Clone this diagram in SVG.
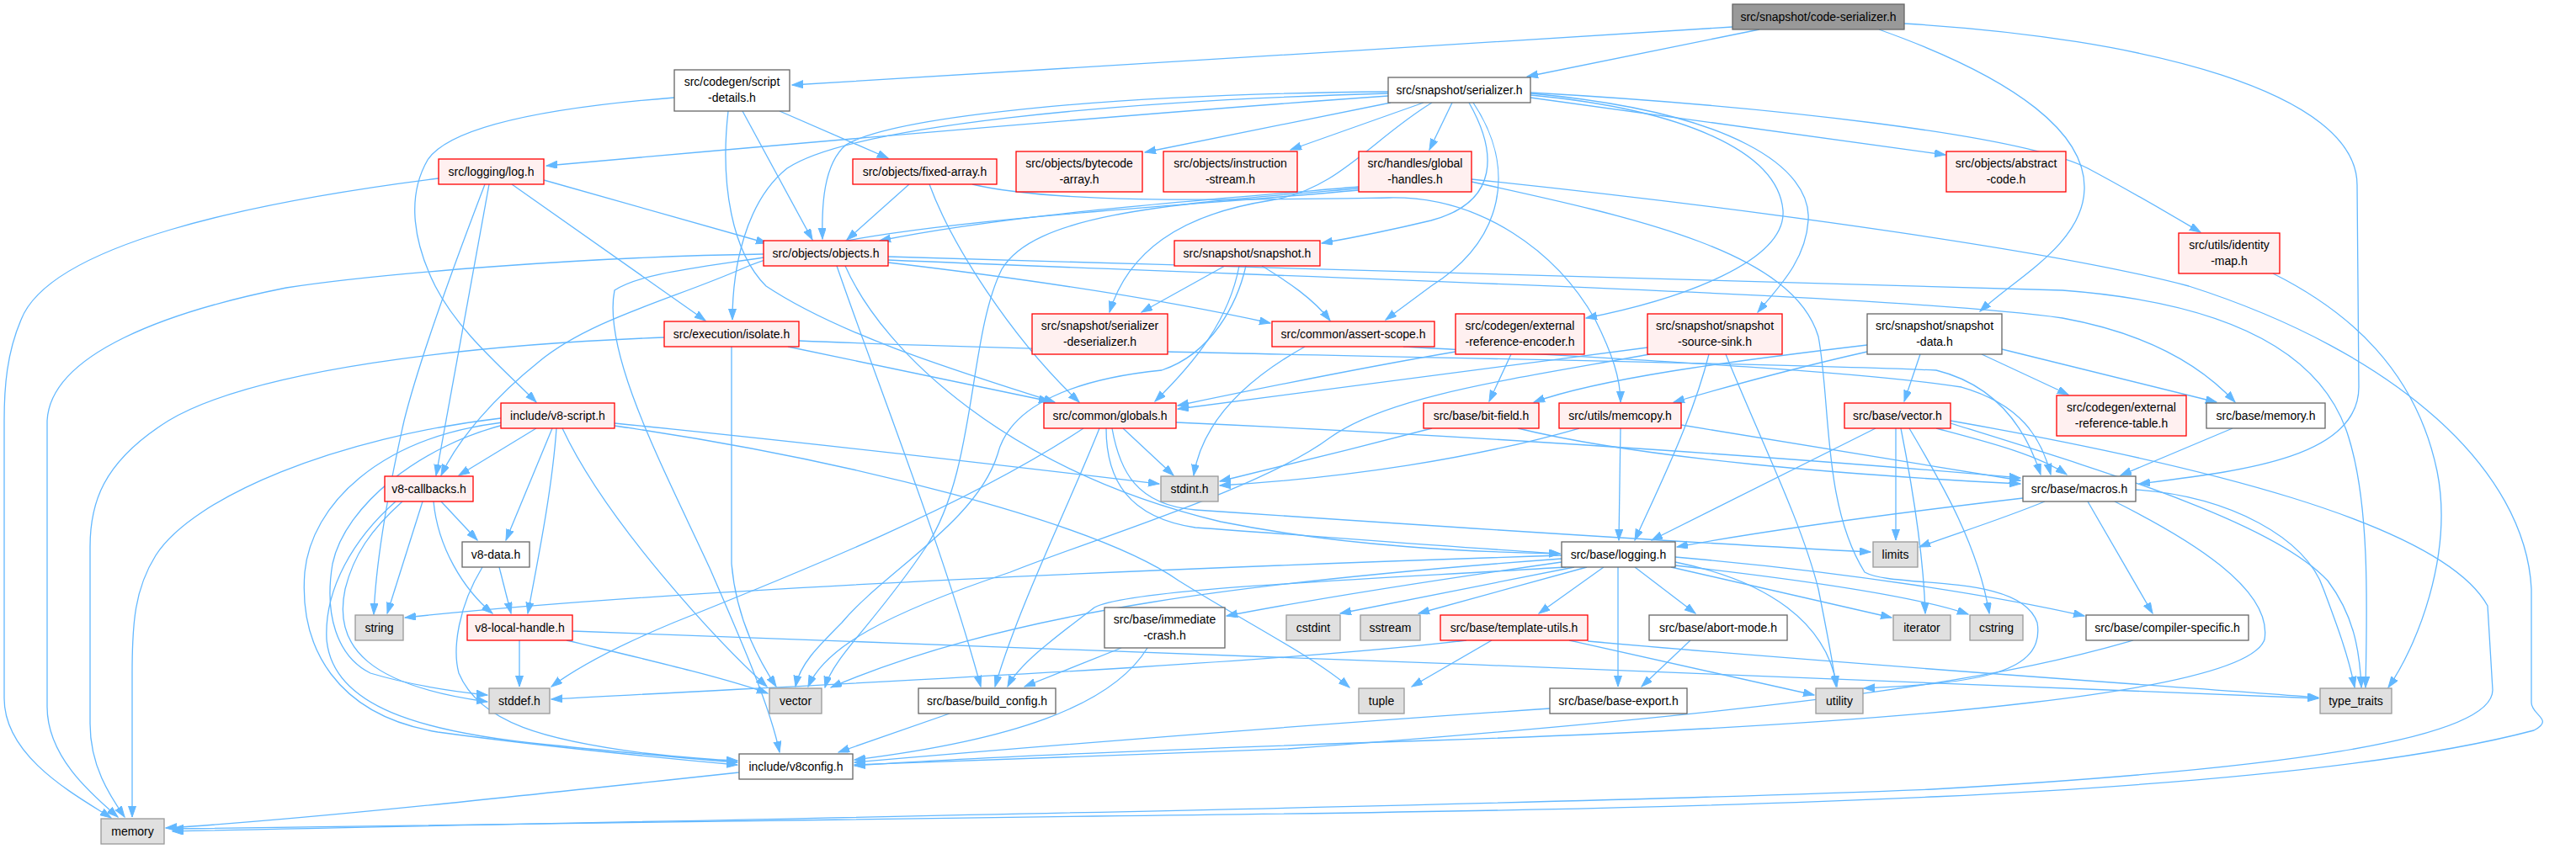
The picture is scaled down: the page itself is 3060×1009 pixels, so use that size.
<svg xmlns="http://www.w3.org/2000/svg" width="3060" height="1009" viewBox="0 0 3060 1009">
<style>
.n rect{stroke-width:1.3}
.w rect{fill:#fff;stroke:#666}
.r rect{fill:#FFF0F0;stroke:#f00}
.g rect{fill:#E0E0E0;stroke:#999}
.root rect{fill:#999;stroke:#666}
text{font-family:"Liberation Sans",Arial,sans-serif;font-size:14px;text-anchor:middle;fill:#000}
.e path{fill:none;stroke:#63B8FF;stroke-width:1.3;marker-end:url(#a)}
</style>
<defs>
<marker id="a" markerUnits="userSpaceOnUse" markerWidth="14" markerHeight="10" refX="13" refY="4.5" orient="auto">
<path d="M0,0 L13,4.5 L0,9 z" fill="#63B8FF" stroke="#63B8FF" stroke-width="1"/>
</marker>
</defs>
<rect width="3060" height="1009" fill="#fff"/>
<g id="edges" class="e">
<path d="M2058,32 C1700,55 1250,82 941,101"/>
<path d="M2090,35 L1814,91"/>
<path d="M2232,35 C2400,95 2478,160 2476,225 C2474,290 2395,330 2352,370"/>
<path d="M2262,28 C2550,45 2800,110 2800,220 L2802,460 C2802,545 2660,560 2541,575"/>
<path d="M1649,114 C1350,135 950,170 649,197"/>
<path d="M1649,109 C1300,112 1060,140 1005,172 C978,195 976,245 977,284"/>
<path d="M1649,111 C1320,120 1010,150 935,200 C885,240 870,320 870,380"/>
<path d="M1652,122 L1360,181"/>
<path d="M1691,122 L1533,178"/>
<path d="M1725,122 L1698,178"/>
<path d="M1701,122 C1630,165 1590,225 1510,238 C1400,255 1340,300 1318,371"/>
<path d="M1745,122 C1778,180 1782,240 1700,262 C1650,274 1610,282 1570,289"/>
<path d="M1750,122 C1802,200 1787,285 1700,340 L1646,380"/>
<path d="M1818,113 C2000,130 2112,180 2118,250 C2122,310 2000,355 1884,378"/>
<path d="M1818,111 C2060,133 2152,200 2148,262 C2145,310 2112,342 2088,371"/>
<path d="M1818,116 L2311,184"/>
<path d="M1818,110 C2100,126 2400,160 2480,200 C2540,232 2590,262 2614,276"/>
<path d="M801,116 C650,128 535,150 508,190 C482,235 492,290 517,340 C545,395 600,440 637,478"/>
<path d="M882,132 L965,285"/>
<path d="M926,132 L1055,188"/>
<path d="M865,132 C855,220 870,300 910,340 C1000,400 1150,445 1253,478"/>
<path d="M646,214 L911,289"/>
<path d="M608,219 L838,381"/>
<path d="M521,212 C300,240 60,290 25,380 C8,420 5,460 5,500 L5,830 C5,900 90,945 132,972"/>
<path d="M576,219 C545,300 500,420 480,500 C462,580 447,660 444,730"/>
<path d="M581,219 L518,565"/>
<path d="M1080,219 L1006,285"/>
<path d="M1104,219 C1130,290 1200,400 1282,478"/>
<path d="M1155,219 C1250,242 1450,238 1650,235 C1760,233 1850,300 1895,380 C1915,420 1925,450 1925,478"/>
<path d="M1614,222 C1400,240 1200,255 1045,286"/>
<path d="M1614,226 C1350,250 1000,265 880,320 C800,355 700,380 640,430 C590,470 545,520 524,565"/>
<path d="M1614,224 C1400,242 1230,252 1190,320 C1150,400 1160,560 1100,650 C1040,740 990,780 980,817"/>
<path d="M1748,213 C2100,250 2450,300 2600,340 C2850,420 3000,560 3007,700 L3007,835 C3007,850 3035,855 3010,868 C2700,950 2000,962 1300,970 C900,976 400,981 205,985"/>
<path d="M1748,216 C1950,260 2130,300 2160,400 C2175,480 2165,600 2215,680 C2250,700 2400,680 2420,740 C2430,800 2350,812 2214,818"/>
<path d="M2700,325 C2790,370 2870,440 2895,560 C2915,660 2870,770 2837,817"/>
<path d="M1055,305 C1600,322 2250,335 2450,345 C2650,360 2760,420 2790,520 C2815,600 2812,720 2810,817"/>
<path d="M1055,309 C1600,332 2250,350 2450,378 C2560,398 2620,440 2655,478"/>
<path d="M907,302 C700,305 450,325 340,342 C200,370 60,420 56,500 L56,840 C56,900 110,945 140,971"/>
<path d="M1055,312 C1250,335 1400,360 1509,384"/>
<path d="M994,316 C1040,450 1120,650 1165,816"/>
<path d="M1004,316 C1050,420 1200,560 1450,620 C1600,650 1750,656 1853,658"/>
<path d="M907,306 C830,318 760,325 730,345 C715,420 790,560 843,675 C880,760 915,840 926,894"/>
<path d="M936,412 L1247,477"/>
<path d="M789,401 C550,410 300,440 200,500 C120,550 107,600 107,650 L107,860 C107,910 130,945 148,971"/>
<path d="M869,412 L869,670 C875,740 905,790 922,816"/>
<path d="M949,405 C1300,420 2000,428 2300,440 C2380,460 2410,520 2424,564"/>
<path d="M1455,316 L1356,371"/>
<path d="M1472,316 C1460,380 1420,430 1372,477"/>
<path d="M1480,316 C1470,360 1440,420 1380,440 C1280,450 1200,480 1185,540 C1160,620 1050,680 1000,740 C970,770 950,790 945,816"/>
<path d="M1499,316 C1530,335 1560,355 1580,381"/>
<path d="M1550,412 C1500,440 1430,490 1418,565"/>
<path d="M1667,412 C1900,425 2200,440 2330,460 C2400,480 2425,520 2436,564"/>
<path d="M1729,418 C1600,440 1480,465 1399,482"/>
<path d="M1795,421 L1769,477"/>
<path d="M1957,413 C1750,440 1520,470 1399,486"/>
<path d="M1960,421 C1800,450 1650,470 1580,520 C1500,580 1300,640 1200,680 C1050,730 980,770 960,816"/>
<path d="M2030,421 C2010,500 1970,580 1942,642"/>
<path d="M2050,421 C2090,520 2140,620 2160,700 C2170,750 2178,790 2181,816"/>
<path d="M2218,410 C2050,430 1900,450 1822,478"/>
<path d="M2218,418 C2120,440 2050,460 1988,478"/>
<path d="M2281,421 L2262,477"/>
<path d="M2354,421 L2457,469"/>
<path d="M2378,415 L2633,478"/>
<path d="M1334,509 L1394,565"/>
<path d="M1287,509 C1150,600 950,680 800,740 C740,765 690,790 655,816"/>
<path d="M1306,509 C1270,600 1210,720 1182,816"/>
<path d="M1314,509 C1314,570 1340,615 1420,627 C1600,640 1750,652 1853,658"/>
<path d="M1321,509 C1330,560 1350,600 1420,606 C1700,625 2000,645 2222,656"/>
<path d="M1397,502 C1800,520 2200,550 2400,568"/>
<path d="M1701,509 C1620,530 1520,555 1449,572"/>
<path d="M1803,509 C1950,545 2200,565 2400,575"/>
<path d="M1876,509 C1750,545 1600,568 1449,577"/>
<path d="M1925,509 L1923,642"/>
<path d="M1997,505 C2150,530 2300,555 2400,571"/>
<path d="M2228,509 L1962,642"/>
<path d="M2252,509 L2252,642"/>
<path d="M2300,509 C2360,525 2420,540 2455,564"/>
<path d="M2268,509 C2310,580 2350,650 2363,729"/>
<path d="M2258,509 C2272,580 2285,660 2287,729"/>
<path d="M2317,503 C2500,560 2700,620 2765,690 C2795,730 2803,770 2805,817"/>
<path d="M2317,500 C2600,550 2900,620 2955,720 L2961,820 C2961,880 2700,915 2295,938 C1800,958 800,975 205,988"/>
<path d="M2652,509 L2519,565"/>
<path d="M2403,592 C2250,610 2100,630 1992,650"/>
<path d="M2429,596 C2370,620 2320,635 2280,650"/>
<path d="M2480,596 L2557,729"/>
<path d="M2512,596 C2600,640 2700,700 2690,760 C2670,820 2300,860 1700,880 C1400,890 1150,900 1015,910"/>
<path d="M2537,582 C2650,590 2740,640 2760,700 C2775,740 2790,780 2797,817"/>
<path d="M502,596 L460,729"/>
<path d="M515,596 C520,650 550,700 585,729"/>
<path d="M524,596 L567,642"/>
<path d="M478,596 C440,630 420,660 410,700 C395,770 440,815 579,834"/>
<path d="M470,596 C420,640 385,700 388,760 C395,840 500,870 650,885 C750,895 820,902 876,906"/>
<path d="M637,509 L545,565"/>
<path d="M656,509 L601,642"/>
<path d="M661,509 C656,580 640,660 627,729"/>
<path d="M730,503 C1000,530 1250,560 1377,575"/>
<path d="M595,497 C400,520 230,590 185,660 C160,700 157,740 157,800 L157,971"/>
<path d="M598,505 C500,530 410,600 395,670 C385,730 400,780 440,800 C490,815 540,822 579,826"/>
<path d="M597,502 C450,520 370,600 362,680 C355,770 400,850 520,870 C650,888 800,902 876,909"/>
<path d="M668,509 C720,620 850,760 911,816"/>
<path d="M730,506 C1000,545 1300,620 1400,690 C1480,740 1560,780 1603,817"/>
<path d="M593,674 L607,729"/>
<path d="M573,674 C545,720 537,770 545,800 C570,860 650,880 765,895 C810,900 845,903 876,904"/>
<path d="M617,761 L617,816"/>
<path d="M673,761 C760,782 860,805 912,824"/>
<path d="M680,750 C1200,770 2200,805 2754,830"/>
<path d="M1855,660 C1400,675 800,700 481,734"/>
<path d="M1855,668 C1700,690 1560,712 1457,732"/>
<path d="M1855,664 C1500,690 1200,725 987,817"/>
<path d="M1860,674 C1600,690 1340,700 1300,722 C1250,760 1210,790 1197,816"/>
<path d="M1870,674 L1592,729"/>
<path d="M1885,674 L1685,729"/>
<path d="M1905,674 L1828,729"/>
<path d="M1922,674 L1922,816"/>
<path d="M1942,674 L2014,729"/>
<path d="M1985,674 L2247,734"/>
<path d="M1990,668 C2100,690 2170,740 2182,816"/>
<path d="M1990,672 C2150,690 2280,710 2338,730"/>
<path d="M1990,662 C2200,680 2380,710 2476,732"/>
<path d="M1742,761 C1500,790 1000,812 655,831"/>
<path d="M1772,761 L1677,816"/>
<path d="M1864,761 L2155,826"/>
<path d="M1886,762 C2200,790 2500,810 2754,829"/>
<path d="M2008,761 L1950,816"/>
<path d="M1841,842 C1500,865 1200,890 1015,906"/>
<path d="M1332,770 L1217,816"/>
<path d="M1363,770 C1320,840 1200,880 1015,903"/>
<path d="M1128,848 L996,894"/>
<path d="M2534,761 C2400,800 2200,840 1530,890 C1300,900 1100,905 1015,909"/>
<path d="M878,918 C600,948 350,975 197,984"/>
</g>
<g id="node-code-serializer" class="n root"><rect x="2058" y="5" width="204" height="30"/><text x="2160" y="25">src/snapshot/code-serializer.h</text></g>
<g id="node-script-details" class="n w"><rect x="801" y="83" width="137" height="49"/><text x="869.5" y="102">src/codegen/script</text><text x="869.5" y="121">-details.h</text></g>
<g id="node-serializer" class="n w"><rect x="1649" y="92" width="169" height="30"/><text x="1733.5" y="112">src/snapshot/serializer.h</text></g>
<g id="node-log" class="n r"><rect x="521" y="189" width="125" height="30"/><text x="583.5" y="209">src/logging/log.h</text></g>
<g id="node-fixed-array" class="n r"><rect x="1013" y="189" width="171" height="30"/><text x="1098.5" y="209">src/objects/fixed-array.h</text></g>
<g id="node-bytecode-array" class="n r"><rect x="1207" y="180" width="150" height="48"/><text x="1282" y="199">src/objects/bytecode</text><text x="1282" y="218">-array.h</text></g>
<g id="node-instruction-stream" class="n r"><rect x="1382" y="180" width="159" height="48"/><text x="1461.5" y="199">src/objects/instruction</text><text x="1461.5" y="218">-stream.h</text></g>
<g id="node-global-handles" class="n r"><rect x="1614" y="180" width="134" height="48"/><text x="1681" y="199">src/handles/global</text><text x="1681" y="218">-handles.h</text></g>
<g id="node-abstract-code" class="n r"><rect x="2312" y="180" width="142" height="48"/><text x="2383" y="199">src/objects/abstract</text><text x="2383" y="218">-code.h</text></g>
<g id="node-objects" class="n r"><rect x="907" y="286" width="148" height="30"/><text x="981" y="306">src/objects/objects.h</text></g>
<g id="node-snapshot" class="n r"><rect x="1395" y="286" width="173" height="30"/><text x="1481.5" y="306">src/snapshot/snapshot.h</text></g>
<g id="node-identity-map" class="n r"><rect x="2588" y="277" width="120" height="48"/><text x="2648" y="296">src/utils/identity</text><text x="2648" y="315">-map.h</text></g>
<g id="node-isolate" class="n r"><rect x="789" y="382" width="160" height="30"/><text x="869" y="402">src/execution/isolate.h</text></g>
<g id="node-serializer-deserializer" class="n r"><rect x="1226" y="373" width="161" height="48"/><text x="1306.5" y="392">src/snapshot/serializer</text><text x="1306.5" y="411">-deserializer.h</text></g>
<g id="node-assert-scope" class="n r"><rect x="1511" y="382" width="193" height="30"/><text x="1607.5" y="402">src/common/assert-scope.h</text></g>
<g id="node-ext-ref-encoder" class="n r"><rect x="1729" y="373" width="153" height="48"/><text x="1805.5" y="392">src/codegen/external</text><text x="1805.5" y="411">-reference-encoder.h</text></g>
<g id="node-source-sink" class="n r"><rect x="1957" y="373" width="160" height="48"/><text x="2037" y="392">src/snapshot/snapshot</text><text x="2037" y="411">-source-sink.h</text></g>
<g id="node-snapshot-data" class="n w"><rect x="2218" y="373" width="160" height="48"/><text x="2298" y="392">src/snapshot/snapshot</text><text x="2298" y="411">-data.h</text></g>
<g id="node-v8-script" class="n r"><rect x="595" y="479" width="135" height="30"/><text x="662.5" y="499">include/v8-script.h</text></g>
<g id="node-globals" class="n r"><rect x="1240" y="479" width="157" height="30"/><text x="1318.5" y="499">src/common/globals.h</text></g>
<g id="node-bit-field" class="n r"><rect x="1691" y="479" width="137" height="30"/><text x="1759.5" y="499">src/base/bit-field.h</text></g>
<g id="node-memcopy" class="n r"><rect x="1852" y="479" width="145" height="30"/><text x="1924.5" y="499">src/utils/memcopy.h</text></g>
<g id="node-base-vector" class="n r"><rect x="2191" y="479" width="126" height="30"/><text x="2254" y="499">src/base/vector.h</text></g>
<g id="node-ext-ref-table" class="n r"><rect x="2443" y="470" width="154" height="48"/><text x="2520" y="489">src/codegen/external</text><text x="2520" y="508">-reference-table.h</text></g>
<g id="node-base-memory" class="n w"><rect x="2621" y="479" width="141" height="30"/><text x="2691.5" y="499">src/base/memory.h</text></g>
<g id="node-v8-callbacks" class="n r"><rect x="457" y="566" width="105" height="30"/><text x="509.5" y="586">v8-callbacks.h</text></g>
<g id="node-stdint" class="n g"><rect x="1379" y="566" width="68" height="30"/><text x="1413" y="586">stdint.h</text></g>
<g id="node-macros" class="n w"><rect x="2403" y="566" width="134" height="30"/><text x="2470" y="586">src/base/macros.h</text></g>
<g id="node-v8-data" class="n w"><rect x="549" y="644" width="80" height="30"/><text x="589" y="664">v8-data.h</text></g>
<g id="node-logging" class="n w"><rect x="1855" y="644" width="135" height="30"/><text x="1922.5" y="664">src/base/logging.h</text></g>
<g id="node-limits" class="n g"><rect x="2225" y="644" width="53" height="30"/><text x="2251.5" y="664">limits</text></g>
<g id="node-string" class="n g"><rect x="422" y="731" width="57" height="30"/><text x="450.5" y="751">string</text></g>
<g id="node-v8-local-handle" class="n r"><rect x="555" y="731" width="125" height="30"/><text x="617.5" y="751">v8-local-handle.h</text></g>
<g id="node-cstdint" class="n g"><rect x="1528" y="731" width="64" height="30"/><text x="1560" y="751">cstdint</text></g>
<g id="node-sstream" class="n g"><rect x="1616" y="731" width="71" height="30"/><text x="1651.5" y="751">sstream</text></g>
<g id="node-template-utils" class="n r"><rect x="1711" y="731" width="175" height="30"/><text x="1798.5" y="751">src/base/template-utils.h</text></g>
<g id="node-abort-mode" class="n w"><rect x="1959" y="731" width="164" height="30"/><text x="2041" y="751">src/base/abort-mode.h</text></g>
<g id="node-iterator" class="n g"><rect x="2249" y="731" width="68" height="30"/><text x="2283" y="751">iterator</text></g>
<g id="node-cstring" class="n g"><rect x="2340" y="731" width="63" height="30"/><text x="2371.5" y="751">cstring</text></g>
<g id="node-compiler-specific" class="n w"><rect x="2478" y="731" width="193" height="30"/><text x="2574.5" y="751">src/base/compiler-specific.h</text></g>
<g id="node-immediate-crash" class="n w"><rect x="1312" y="722" width="143" height="48"/><text x="1383.5" y="741">src/base/immediate</text><text x="1383.5" y="760">-crash.h</text></g>
<g id="node-stddef" class="n g"><rect x="581" y="818" width="72" height="30"/><text x="617" y="838">stddef.h</text></g>
<g id="node-vector" class="n g"><rect x="914" y="818" width="62" height="30"/><text x="945" y="838">vector</text></g>
<g id="node-build-config" class="n w"><rect x="1091" y="818" width="163" height="30"/><text x="1172.5" y="838">src/base/build_config.h</text></g>
<g id="node-tuple" class="n g"><rect x="1614" y="818" width="54" height="30"/><text x="1641" y="838">tuple</text></g>
<g id="node-base-export" class="n w"><rect x="1841" y="818" width="163" height="30"/><text x="1922.5" y="838">src/base/base-export.h</text></g>
<g id="node-utility" class="n g"><rect x="2157" y="818" width="56" height="30"/><text x="2185" y="838">utility</text></g>
<g id="node-type-traits" class="n g"><rect x="2756" y="818" width="85" height="30"/><text x="2798.5" y="838">type_traits</text></g>
<g id="node-v8config" class="n w"><rect x="878" y="896" width="135" height="30"/><text x="945.5" y="916">include/v8config.h</text></g>
<g id="node-memory" class="n g"><rect x="120" y="973" width="75" height="30"/><text x="157.5" y="993">memory</text></g>
</svg>
